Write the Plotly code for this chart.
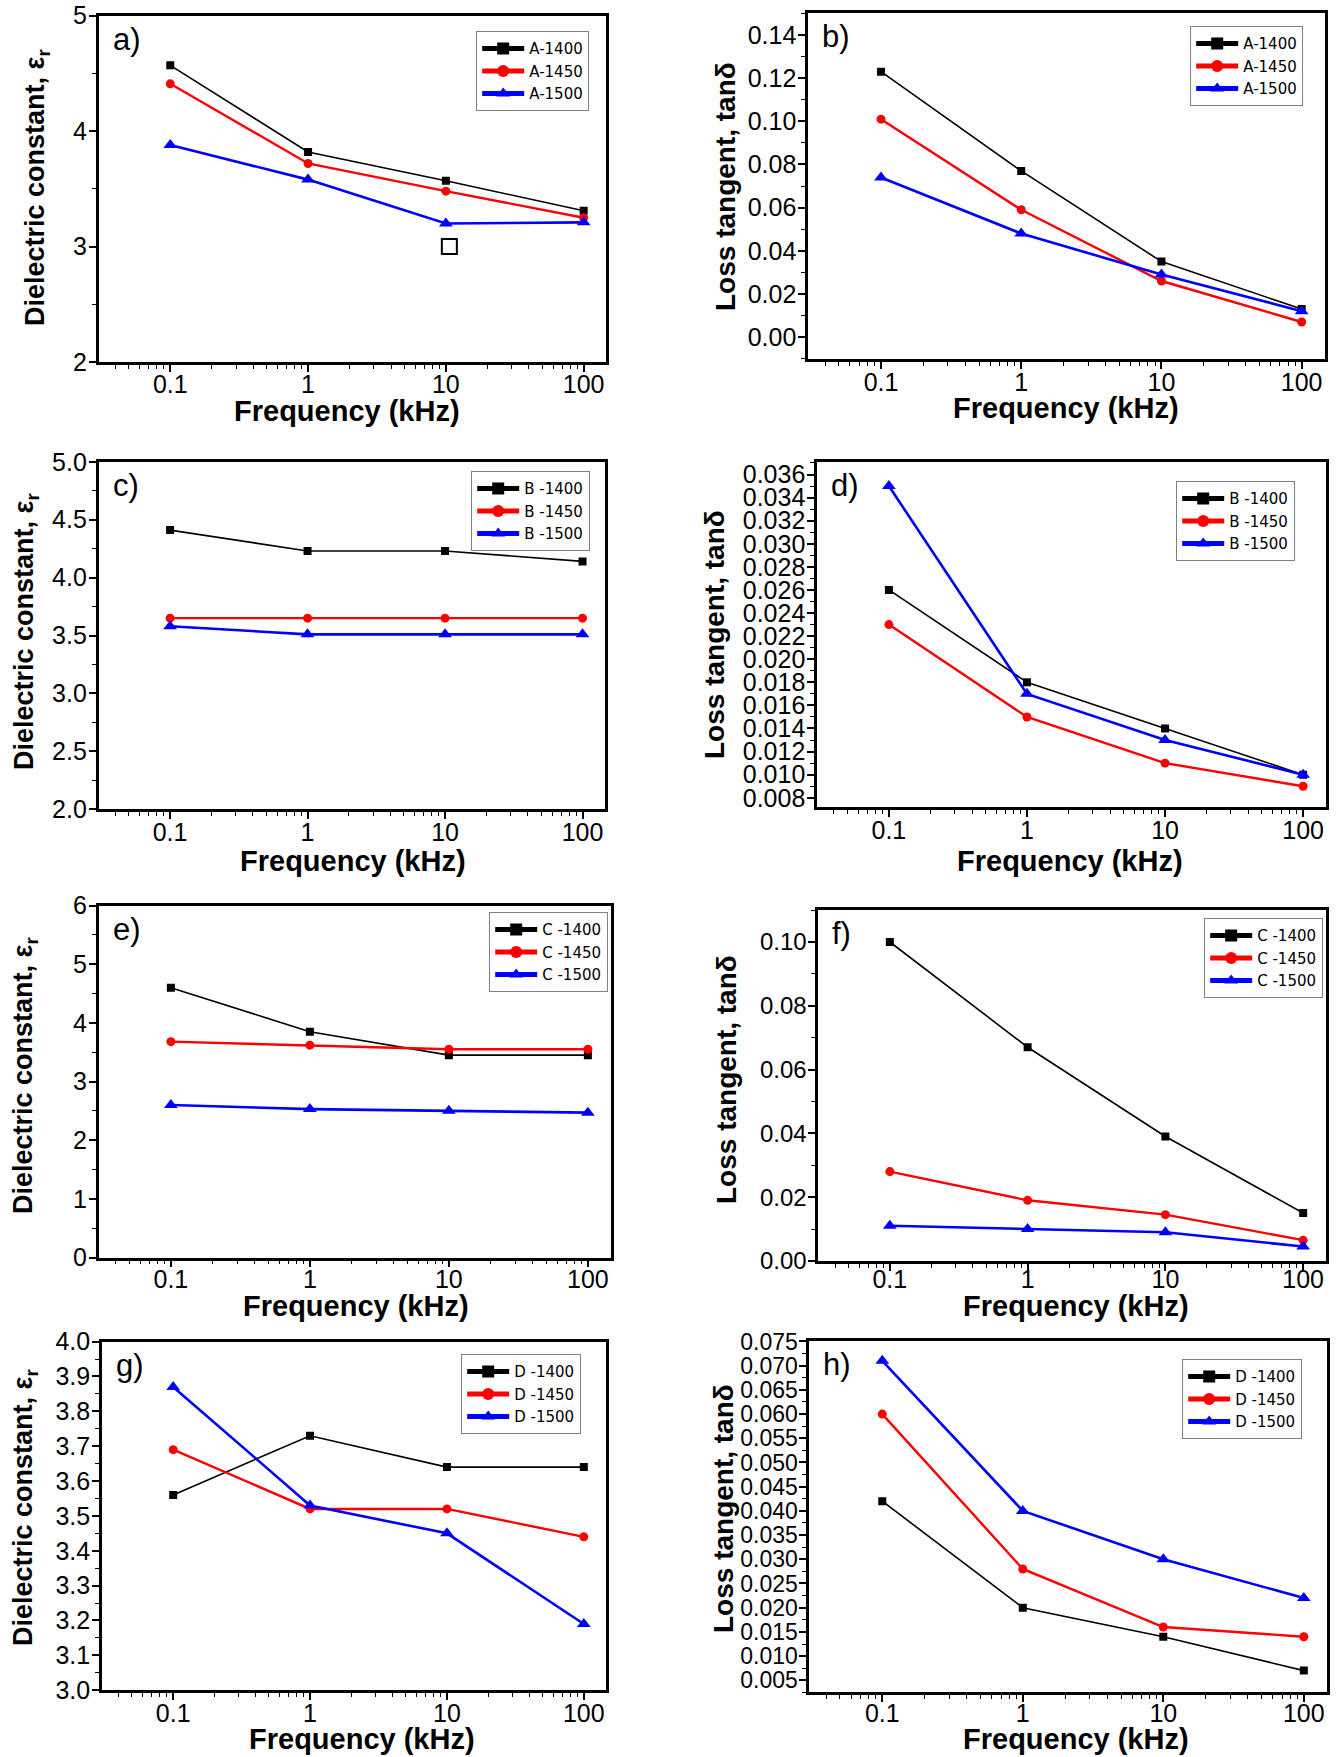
import plotly.graph_objects as go

W, H = 1336, 1757

freq = [0.1, 1, 10, 100]
tick_vals_x = [0.1, 1, 10, 100]
tick_text_x = ["0.1", "1", "10", "100"]

# ---- data ----
a_1400 = [4.57, 3.82, 3.57, 3.31]
a_1450 = [4.41, 3.72, 3.48, 3.25]
a_1500 = [3.88, 3.58, 3.20, 3.21]
a_stray_x = [10.6]
a_stray_y = [3.0]

b_1400 = [0.123, 0.077, 0.035, 0.013]
b_1450 = [0.101, 0.059, 0.026, 0.007]
b_1500 = [0.074, 0.048, 0.029, 0.012]

c_1400 = [4.41, 4.23, 4.23, 4.14]
c_1450 = [3.65, 3.65, 3.65, 3.65]
c_1500 = [3.58, 3.51, 3.51, 3.51]

d_1400 = [0.026, 0.018, 0.014, 0.010]
d_1450 = [0.023, 0.015, 0.011, 0.009]
d_1500 = [0.035, 0.017, 0.013, 0.010]

e_1400 = [4.60, 3.85, 3.45, 3.45]
e_1450 = [3.68, 3.62, 3.55, 3.55]
e_1500 = [2.60, 2.53, 2.50, 2.47]

f_1400 = [0.100, 0.067, 0.039, 0.015]
f_1450 = [0.028, 0.019, 0.0145, 0.0065]
f_1500 = [0.011, 0.010, 0.009, 0.0045]

g_1400 = [3.56, 3.73, 3.64, 3.64]
g_1450 = [3.69, 3.52, 3.52, 3.44]
g_1500 = [3.87, 3.53, 3.45, 3.19]

h_1400 = [0.042, 0.020, 0.014, 0.007]
h_1450 = [0.060, 0.028, 0.016, 0.014]
h_1500 = [0.071, 0.040, 0.030, 0.022]

panel_labels = ["a)", "b)", "c)", "d)", "e)", "f)", "g)", "h)"]
series_names = [
    ["A-1400", "A-1450", "A-1500"],
    ["A-1400", "A-1450", "A-1500"],
    ["B -1400", "B -1450", "B -1500"],
    ["B -1400", "B -1450", "B -1500"],
    ["C -1400", "C -1450", "C -1500"],
    ["C -1400", "C -1450", "C -1500"],
    ["D -1400", "D -1450", "D -1500"],
    ["D -1400", "D -1450", "D -1500"],
]
series_data = [
    [a_1400, a_1450, a_1500],
    [b_1400, b_1450, b_1500],
    [c_1400, c_1450, c_1500],
    [d_1400, d_1450, d_1500],
    [e_1400, e_1450, e_1500],
    [f_1400, f_1450, f_1500],
    [g_1400, g_1450, g_1500],
    [h_1400, h_1450, h_1500],
]

DIEL = "Dielectric constant, ε<sub>r</sub>"
LOSS = "Loss tangent, tanδ"

# ---- layout (pixels) ----
# plot boxes: x0, x1, y0(top), y1(bottom)
boxes = [
    (98.6, 606.4, 15.7, 362.0),
    (808.1, 1324.8, 13.4, 358.7),
    (98.6, 605.2, 461.8, 809.2),
    (817.1, 1325.9, 461.8, 807.0),
    (98.6, 610.8, 905.6, 1257.5),
    (818.2, 1325.9, 910.1, 1260.9),
    (102.0, 606.4, 1341.6, 1690.2),
    (809.2, 1327.0, 1340.5, 1692.4),
]
yaxes_cfg = [
    dict(range=[2, 5], dtick=1, tick0=0, tickformat="d", minor=0.5),
    dict(range=[-0.01, 0.15], dtick=0.02, tick0=0, tickformat=".2f", minor=0.01),
    dict(range=[2, 5], dtick=0.5, tick0=0, tickformat=".1f", minor=0.25),
    dict(range=[0.0072, 0.0371], dtick=0.002, tick0=0, tickformat=".3f", minor=0.001),
    dict(range=[0, 6], dtick=1, tick0=0, tickformat="d", minor=0.5),
    dict(range=[0, 0.11], dtick=0.02, tick0=0, tickformat=".2f", minor=0.01),
    dict(range=[3, 4], dtick=0.1, tick0=0, tickformat=".1f", minor=0.05),
    dict(range=[0.0025, 0.0752], dtick=0.005, tick0=0, tickformat=".3f", minor=0.0025),
]
tick_sizes = [25, 25, 25, 25, 25, 24, 25, 23]
xlabel_standoff = [-9, -8, -8, -8, -9, -13, -8, -10]
legend_pos = [
    (476, 31), (1190, 26), (471, 471), (1176, 481),
    (489, 912), (1204, 918), (461, 1354), (1182, 1359),
]
ytitle_pos = [
    (37, 188), (725, 187), (26, 632), (714, 635),
    (25, 1076), (726, 1080), (25, 1508), (723, 1509),
]
xtitle_pos = [
    (347, 411), (1066, 408), (353, 861), (1070, 861),
    (356, 1306), (1076, 1306), (362, 1739), (1076, 1739),
]
ytitles = [DIEL, LOSS] * 4
ytitle_sizes = [27, 28] * 4

styles = [
    dict(color="black", symbol="square", msize=8, lw=1.6),
    dict(color="#ff0000", symbol="circle", msize=9, lw=2.4),
    dict(color="#0000ff", symbol="triangle-up", msize=12, lw=2.6),
]

TICKFAMILY = "Liberation Sans Narrow, Arial Narrow, Liberation Sans, sans-serif"
TITLEFONT = dict(family="Liberation Sans, Arial, sans-serif", size=29, color="black", weight="bold")

def px_x(p):
    return p / W

def px_y(p):
    return 1 - p / H

fig = go.Figure()
layout = dict(
    width=W, height=H,
    margin=dict(l=0, r=0, t=0, b=0, autoexpand=False),
    plot_bgcolor="white", paper_bgcolor="white",
    showlegend=True,
    annotations=[],
)

for i in range(8):
    n = i + 1
    xa = "xaxis" if n == 1 else f"xaxis{n}"
    ya = "yaxis" if n == 1 else f"yaxis{n}"
    xr = "x" if n == 1 else f"x{n}"
    yr = "y" if n == 1 else f"y{n}"
    lg = "legend" if n == 1 else f"legend{n}"
    x0, x1, y0, y1 = boxes[i]
    cfg = yaxes_cfg[i]
    tickfont = dict(family=TICKFAMILY, size=tick_sizes[i], color="black")
    layout[xa] = dict(
        type="log", range=[-1.52, 2.165], domain=[px_x(x0), px_x(x1)],
        anchor=yr, tickvals=tick_vals_x, ticktext=tick_text_x, automargin=False,
        ticks="outside", ticklen=7, tickwidth=1.5, tickcolor="black",
        ticklabelstandoff=xlabel_standoff[i],
        minor=dict(ticks="outside", ticklen=4, tickwidth=1.2, tickcolor="black", dtick="D1", showgrid=False),
        showline=True, linewidth=2.6, linecolor="black", mirror=True,
        showgrid=False, zeroline=False, tickfont=dict(family=TICKFAMILY, size=25, color="black"),
    )
    layout[ya] = dict(
        range=cfg["range"], dtick=cfg["dtick"], tick0=cfg["tick0"], tickformat=cfg["tickformat"],
        domain=[px_y(y1), px_y(y0)], anchor=xr, automargin=False,
        ticks="outside", ticklen=7, tickwidth=1.5, tickcolor="black", ticklabelstandoff=-3,
        minor=dict(ticks="outside", ticklen=4, tickwidth=1.2, tickcolor="black", dtick=cfg["minor"], tick0=0, showgrid=False),
        showline=True, linewidth=2.6, linecolor="black", mirror=True,
        showgrid=False, zeroline=False, tickfont=tickfont,
    )
    lx, ly = legend_pos[i]
    layout[lg] = dict(
        x=px_x(lx), y=px_y(ly), xanchor="left", yanchor="top",
        bgcolor="white", bordercolor="#808080", borderwidth=1.2,
        font=dict(family="DejaVu Sans, Verdana, sans-serif", size=15, color="black"),
        tracegroupgap=0, itemsizing="constant", itemwidth=42,
    )
    for s, (vals, name) in enumerate(zip(series_data[i], series_names[i])):
        st = styles[s]
        fig.add_trace(go.Scatter(
            x=freq, y=vals, mode="lines+markers", name=name,
            xaxis=xr, yaxis=yr, legend=lg,
            line=dict(color=st["color"], width=st["lw"]),
            marker=dict(symbol=st["symbol"], size=st["msize"], color=st["color"]),
        ))
    # panel label
    layout["annotations"].append(dict(
        text=panel_labels[i], xref="paper", yref="paper",
        x=px_x(x0 + 12), y=px_y(y0 + 4), xanchor="left", yanchor="top",
        showarrow=False, font=dict(family="Liberation Sans Narrow, Liberation Sans, sans-serif", size=31, color="black"),
    ))
    tx, ty = ytitle_pos[i]
    layout["annotations"].append(dict(
        text=ytitles[i], xref="paper", yref="paper", x=px_x(tx), y=px_y(ty),
        xanchor="center", yanchor="middle", textangle=-90, showarrow=False,
        font=dict(family="Liberation Sans, Arial, sans-serif", size=ytitle_sizes[i], color="black", weight="bold"),
    ))
    fx, fy = xtitle_pos[i]
    layout["annotations"].append(dict(
        text="Frequency (kHz)", xref="paper", yref="paper", x=px_x(fx), y=px_y(fy),
        xanchor="center", yanchor="middle", showarrow=False, font=TITLEFONT,
    ))

# stray open square marker visible in panel a
fig.add_trace(go.Scatter(
    x=a_stray_x, y=a_stray_y, mode="markers", xaxis="x", yaxis="y", showlegend=False,
    marker=dict(symbol="square-open", size=15, color="black", line=dict(width=2)),
))

fig.update_layout(**layout)
fig.write_html(
    "out.html",
    config={"displayModeBar": False},
    post_script="document.body.style.margin='0px';",
)
